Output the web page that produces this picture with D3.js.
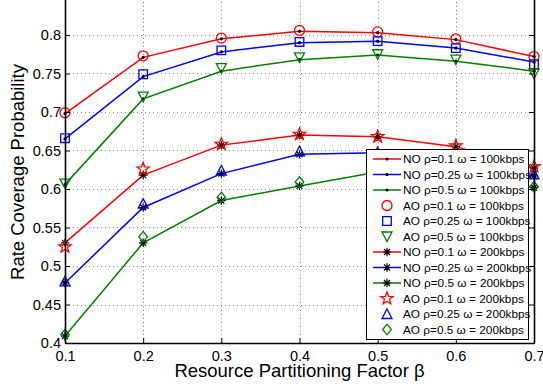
<!DOCTYPE html>
<html><head><meta charset="utf-8">
<script src="https://cdn.jsdelivr.net/npm/d3@7"></script>
<style>html,body{margin:0;padding:0;background:#fff;}svg{display:block;}</style>
</head><body>
<svg id="c" width="543" height="391"></svg>
<script>
const beta = [0.1, 0.2, 0.3, 0.4, 0.5, 0.6, 0.7];
const xTicks = [0.1, 0.2, 0.3, 0.4, 0.5, 0.6, 0.7];
const yTicks = [0.4, 0.45, 0.5, 0.55, 0.6, 0.65, 0.7, 0.75, 0.8];
// NO (lines) 100 kbps
const no100_r01 = [0.698, 0.771, 0.795, 0.805, 0.803, 0.794, 0.772];
const no100_r025 = [0.665, 0.746, 0.778, 0.790, 0.792, 0.783, 0.765];
const no100_r05 = [0.606, 0.717, 0.753, 0.768, 0.774, 0.766, 0.753];
// AO (markers) 100 kbps
const ao100_r01 = [0.699, 0.773, 0.796, 0.806, 0.804, 0.795, 0.772];
const ao100_r025 = [0.666, 0.749, 0.780, 0.791, 0.792, 0.783, 0.762];
const ao100_r05 = [0.607, 0.720, 0.757, 0.771, 0.775, 0.768, 0.750];
// NO (lines) 200 kbps
const no200_r01 = [0.530, 0.618, 0.657, 0.670, 0.668, 0.655, 0.627];
const no200_r025 = [0.478, 0.576, 0.620, 0.645, 0.647, 0.638, 0.617];
const no200_r05 = [0.409, 0.530, 0.585, 0.604, 0.622, 0.617, 0.602];
// AO (markers) 200 kbps
const ao200_r01 = [0.525, 0.626, 0.658, 0.671, 0.668, 0.656, 0.629];
const ao200_r025 = [0.480, 0.581, 0.624, 0.649, 0.648, 0.639, 0.619];
const ao200_r05 = [0.411, 0.538, 0.589, 0.609, 0.623, 0.618, 0.603];

const legendLabels = [
  "NO \u03c1=0.1 \u03c9 = 100kbps", "NO \u03c1=0.25 \u03c9 = 100kbps", "NO \u03c1=0.5 \u03c9 = 100kbps",
  "AO \u03c1=0.1 \u03c9 = 100kbps", "AO \u03c1=0.25 \u03c9 = 100kbps", "AO \u03c1=0.5 \u03c9 = 100kbps",
  "NO \u03c1=0.1 \u03c9 = 200kbps", "NO \u03c1=0.25 \u03c9 = 200kbps", "NO \u03c1=0.5 \u03c9 = 200kbps",
  "AO \u03c1=0.1 \u03c9 = 200kbps", "AO \u03c1=0.25 \u03c9 = 200kbps", "AO \u03c1=0.5 \u03c9 = 200kbps"
];
const xTitle = "Resource Partitioning Factor \u03b2";
const yTitle = "Rate Coverage Probability";

const RED = "#ff0000", BLUE = "#0000ff", GREEN = "#008000";
const series = [
  {vals: no100_r01, color: RED, line: true, marker: "dot"},
  {vals: no100_r025, color: BLUE, line: true, marker: "dot"},
  {vals: no100_r05, color: GREEN, line: true, marker: "dot"},
  {vals: ao100_r01, color: RED, line: false, marker: "circle"},
  {vals: ao100_r025, color: BLUE, line: false, marker: "square"},
  {vals: ao100_r05, color: GREEN, line: false, marker: "tridown"},
  {vals: no200_r01, color: RED, line: true, marker: "asterisk"},
  {vals: no200_r025, color: BLUE, line: true, marker: "asterisk"},
  {vals: no200_r05, color: GREEN, line: true, marker: "asterisk"},
  {vals: ao200_r01, color: RED, line: false, marker: "star"},
  {vals: ao200_r025, color: BLUE, line: false, marker: "triup"},
  {vals: ao200_r05, color: GREEN, line: false, marker: "diamond"}
];

const FONT = "'Liberation Sans', Arial, Helvetica, sans-serif";
const L = 65, R = 534, B = 343;
const x = d3.scaleLinear().domain([0.1, 0.7]).range([L, R]);
const y = d3.scaleLinear().domain([0.4, 0.85]).range([B, B - 0.45 * 770]);
const T = y(0.85);

const svg = d3.select("#c");

// grid
const grid = svg.append("g").attr("stroke", "#8a8a8a").attr("stroke-width", 1).attr("stroke-dasharray", "1,3");
grid.selectAll("line.gx").data(xTicks.slice(1, -1)).join("line")
  .attr("x1", d => Math.round(x(d)) + 0.5).attr("x2", d => Math.round(x(d)) + 0.5)
  .attr("y1", B).attr("y2", T);
grid.selectAll("line.gy").data(yTicks.slice(1)).join("line")
  .attr("y1", d => Math.round(y(d)) + 0.5).attr("y2", d => Math.round(y(d)) + 0.5)
  .attr("x1", L).attr("x2", R);

function markerPath(type) {
  switch (type) {
    case "circle": return d3.arc()({innerRadius: 0, outerRadius: 5, startAngle: 0, endAngle: 2 * Math.PI});
    case "square": return "M-4.3,-4.3H4.3V4.3H-4.3Z";
    case "tridown": return "M-5,-4.5L5,-4.5L0,5Z";
    case "triup": return "M-5,4.5L5,4.5L0,-5Z";
    case "diamond": return "M0,-5.3L4.3,0L0,5.3L-4.3,0Z";
    case "star": {
      const pts = [];
      for (let i = 0; i < 10; i++) {
        const r = i % 2 === 0 ? 6.5 : 2.7;
        const a = -Math.PI / 2 + i * Math.PI / 5;
        pts.push([r * Math.cos(a), r * Math.sin(a)]);
      }
      return "M" + pts.map(p => p[0].toFixed(2) + "," + p[1].toFixed(2)).join("L") + "Z";
    }
    case "asterisk": {
      const s = 4.2, d = 3.0;
      return `M${-s},0H${s}M0,${-s}V${s}M${-d},${-d}L${d},${d}M${-d},${d}L${d},${-d}`;
    }
  }
}

function drawMarker(g, type, color) {
  if (type === "dot") {
    g.append("circle").attr("r", 1.6).attr("fill", "#000");
  } else if (type === "asterisk") {
    g.append("path").attr("d", markerPath(type)).attr("fill", "none").attr("stroke", "#000").attr("stroke-width", 1.2);
  } else {
    g.append("path").attr("d", markerPath(type)).attr("fill", "none").attr("stroke", color).attr("stroke-width", 1.3);
  }
}

const plot = svg.append("g");
const lineGen = d3.line().x((d, i) => x(beta[i])).y(d => y(d));
series.forEach(s => {
  const g = plot.append("g");
  if (s.line) {
    g.append("path").attr("d", lineGen(s.vals)).attr("fill", "none").attr("stroke", s.color).attr("stroke-width", 1.5);
  }
  s.vals.forEach((v, i) => {
    const mg = g.append("g").attr("transform", `translate(${x(beta[i])},${y(v)})`);
    drawMarker(mg, s.marker, s.color);
  });
});

// axes
const ax = svg.append("g").attr("font-family", FONT);
const yAxis = ax.append("g").attr("transform", `translate(${L},0)`)
  .call(d3.axisLeft(y).tickValues(yTicks).tickSizeInner(-5).tickSizeOuter(0).tickPadding(4)
    .tickFormat(d => d3.format("")(+d.toFixed(2))));
const yAxisR = ax.append("g").attr("transform", `translate(${R},0)`)
  .call(d3.axisRight(y).tickValues(yTicks).tickSizeInner(-5).tickSizeOuter(0).tickFormat(""));
const xAxis = ax.append("g").attr("transform", `translate(0,${B})`)
  .call(d3.axisBottom(x).tickValues(xTicks).tickSizeInner(-5).tickSizeOuter(0).tickPadding(8)
    .tickFormat(d => d3.format("")(+d.toFixed(1))));
[yAxis, yAxisR, xAxis].forEach(a => {
  a.select(".domain").attr("stroke", "#000").attr("stroke-width", 1.6);
  a.selectAll(".tick line").attr("stroke", "#000").attr("stroke-width", 1);
  a.selectAll("text").attr("font-size", 14.5).attr("fill", "#000").attr("font-family", FONT);
});

// titles
svg.append("text").attr("x", (L + R) / 2).attr("y", 377).attr("text-anchor", "middle")
  .attr("font-family", FONT).attr("font-size", 18.5).attr("fill", "#000").text(xTitle);
svg.append("text").attr("transform", `translate(24,172) rotate(-90)`).attr("text-anchor", "middle")
  .attr("font-family", FONT).attr("font-size", 18.5).attr("fill", "#000").text(yTitle);

// legend
const lg = svg.append("g");
lg.append("rect").attr("x", 366.5).attr("y", 149.5).attr("width", 162).attr("height", 190)
  .attr("fill", "#fff").attr("stroke", "#000").attr("stroke-width", 1);
series.forEach((s, i) => {
  const cy = 159 + i * 15.5;
  const row = lg.append("g").attr("transform", `translate(0,${cy})`);
  if (s.line) row.append("line").attr("x1", 373).attr("x2", 401).attr("y1", 0).attr("y2", 0)
    .attr("stroke", s.color).attr("stroke-width", 1.5);
  const mg = row.append("g").attr("transform", "translate(387,0)");
  drawMarker(mg, s.marker, s.color);
  row.append("text").attr("x", 403).attr("y", 4.2).attr("font-family", FONT).attr("font-size", 11.8)
    .attr("fill", "#000").text(legendLabels[i]);
});
</script>
</body></html>
